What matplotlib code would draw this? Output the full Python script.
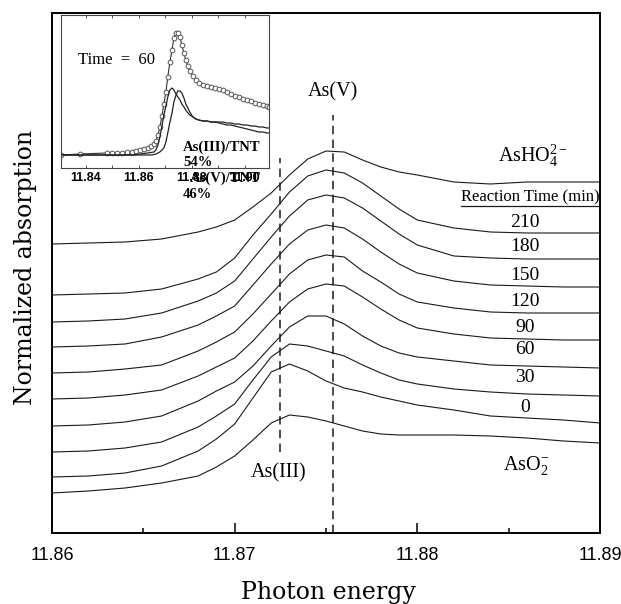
import matplotlib
matplotlib.use('Agg')
import matplotlib.pyplot as plt
from matplotlib.lines import Line2D

plt.rcParams['mathtext.fontset'] = 'custom'
plt.rcParams['mathtext.rm'] = 'Liberation Serif'
plt.rcParams['mathtext.it'] = 'Liberation Serif:italic'
plt.rcParams['mathtext.bf'] = 'Liberation Serif:bold'

# ---------------- main panel data ----------------
energy = [11.860, 11.862, 11.864, 11.866, 11.868, 11.869, 11.870, 11.871, 11.872,
          11.873, 11.874, 11.875, 11.876, 11.877, 11.878, 11.879, 11.880, 11.882,
          11.884, 11.886, 11.888, 11.890]

ashO4_ref = [2.89, 2.90, 2.91, 2.94, 3.01, 3.06, 3.13, 3.26, 3.40, 3.58, 3.74, 3.82,
             3.81, 3.73, 3.66, 3.61, 3.58, 3.51, 3.49, 3.51, 3.51, 3.51]
t210 = [2.38, 2.39, 2.40, 2.44, 2.54, 2.61, 2.75, 2.98, 3.19, 3.41, 3.57, 3.63,
        3.60, 3.50, 3.37, 3.24, 3.13, 3.05, 3.01, 3.00, 3.00, 3.00]
t180 = [2.11, 2.12, 2.14, 2.20, 2.32, 2.40, 2.52, 2.74, 2.96, 3.17, 3.33, 3.38,
        3.35, 3.25, 3.12, 2.99, 2.88, 2.77, 2.75, 2.74, 2.74, 2.74]
t150 = [1.86, 1.87, 1.89, 1.96, 2.08, 2.17, 2.27, 2.48, 2.69, 2.89, 3.03, 3.08,
        3.05, 2.94, 2.81, 2.69, 2.60, 2.52, 2.48, 2.47, 2.46, 2.46]
t120 = [1.60, 1.61, 1.64, 1.68, 1.82, 1.91, 2.01, 2.19, 2.39, 2.59, 2.73, 2.78,
        2.76, 2.62, 2.51, 2.39, 2.31, 2.25, 2.21, 2.20, 2.20, 2.20]
t90 = [1.34, 1.35, 1.38, 1.43, 1.57, 1.66, 1.75, 1.92, 2.12, 2.31, 2.44, 2.49,
       2.47, 2.36, 2.24, 2.13, 2.05, 1.99, 1.95, 1.94, 1.93, 1.93]
t60 = [1.07, 1.08, 1.11, 1.17, 1.32, 1.42, 1.51, 1.67, 1.87, 2.06, 2.17, 2.17,
       2.09, 1.97, 1.87, 1.80, 1.76, 1.72, 1.68, 1.67, 1.66, 1.65]
t30 = [0.81, 0.82, 0.85, 0.91, 1.06, 1.17, 1.29, 1.53, 1.76, 1.89, 1.87, 1.82,
       1.77, 1.68, 1.60, 1.53, 1.49, 1.44, 1.41, 1.39, 1.38, 1.37]
t0 = [0.56, 0.57, 0.60, 0.67, 0.82, 0.94, 1.09, 1.35, 1.61, 1.69, 1.62, 1.52,
      1.45, 1.41, 1.36, 1.32, 1.28, 1.23, 1.17, 1.15, 1.13, 1.10]
aso2_ref = [0.40, 0.42, 0.45, 0.50, 0.57, 0.66, 0.77, 0.93, 1.10, 1.18, 1.16, 1.12,
            1.07, 1.02, 0.99, 0.98, 0.98, 0.98, 0.97, 0.95, 0.92, 0.90]

spectra = [ashO4_ref, t210, t180, t150, t120, t90, t60, t30, t0, aso2_ref]

time_labels = ['210', '180', '150', '120', '90', '60', '30', '0']
time_label_y = [3.11, 2.87, 2.58, 2.31, 2.06, 1.83, 1.55, 1.25]

as3_energy = 11.8725
as5_energy = 11.8754

xticks = [11.86, 11.87, 11.88, 11.89]
xtick_labels = ['11.86', '11.87', '11.88', '11.89']
xminor = [11.865, 11.875, 11.885]

# ---------------- inset data ----------------
inset_energy = [11.8306, 11.8377, 11.8479, 11.8498, 11.8517, 11.8536, 11.8555, 11.8574,
                11.8589, 11.8604, 11.8619, 11.8634, 11.8645, 11.8657, 11.8664, 11.8672,
                11.8679, 11.8687, 11.8694, 11.8702, 11.8709, 11.8717, 11.8725, 11.8732,
                11.8740, 11.8747, 11.8755, 11.8762, 11.8770, 11.8777, 11.8785, 11.8792,
                11.8804, 11.8815, 11.8826, 11.8842, 11.8857, 11.8872, 11.8887, 11.8902,
                11.8917, 11.8932, 11.8947, 11.8962, 11.8977, 11.8993, 11.9008, 11.9023,
                11.9038, 11.9053, 11.9068, 11.9083, 11.9091]
inset_total = [0.00, 0.01, 0.02, 0.02, 0.02, 0.025, 0.03, 0.035, 0.04, 0.05, 0.06, 0.075, 0.09,
               0.11, 0.14, 0.20, 0.28, 0.39, 0.51, 0.63, 0.78, 0.93, 1.05, 1.17, 1.22, 1.22,
               1.18, 1.10, 1.02, 0.95, 0.89, 0.84,
               0.79, 0.75, 0.72,
               0.70, 0.69, 0.68, 0.67, 0.66, 0.65, 0.63, 0.61, 0.59, 0.58, 0.56, 0.55, 0.54,
               0.52, 0.51, 0.50, 0.49, 0.48]
inset_as3 = [0, 0, 0, 0, 0, 0, 0, 0, 0.005, 0.01, 0.015, 0.02, 0.025,
             0.03, 0.05, 0.10, 0.18, 0.29, 0.40, 0.49, 0.58, 0.65, 0.67, 0.65, 0.61, 0.58,
             0.55, 0.51, 0.48, 0.45, 0.42, 0.40,
             0.38, 0.36, 0.35,
             0.34, 0.34, 0.33, 0.33, 0.33, 0.33, 0.32, 0.32, 0.31, 0.31, 0.30, 0.30, 0.29,
             0.29, 0.28, 0.28, 0.27, 0.27]
inset_as5 = [0, 0, 0, 0, 0, 0, 0, 0, 0, 0, 0, 0, 0,
             0.005, 0.01, 0.02, 0.03, 0.05, 0.07, 0.13, 0.22, 0.33, 0.42, 0.53, 0.60, 0.64,
             0.64, 0.62, 0.57, 0.51, 0.47, 0.43,
             0.38, 0.36, 0.35,
             0.34, 0.34, 0.33, 0.33, 0.32, 0.31, 0.30, 0.30, 0.29, 0.28, 0.27, 0.26, 0.25,
             0.24, 0.23, 0.23, 0.22, 0.22]
inset_xticks = [11.84, 11.86, 11.88, 11.90]
inset_xtick_labels = ['11.84', '11.86', '11.88', '11.90']
inset_xminor = [11.85, 11.87, 11.89]

# ---------------- figure ----------------
W, H = 621, 604
fig = plt.figure(figsize=(W / 100, H / 100), dpi=100)
ax = fig.add_axes([52 / W, 1 - 533 / H, 548 / W, 520 / H])

line_col = '#1a1a1a'
for s in spectra:
    ax.plot(energy, s, color=line_col, lw=0.8, solid_joinstyle='round')

ax.plot([as3_energy, as3_energy], [0.81, 3.75], color=line_col, lw=1.1,
        dashes=(5.5, 3.5))
ax.plot([as5_energy, as5_energy], [0.0, 4.18], color=line_col, lw=1.1,
        dashes=(5.5, 3.5))

ax.set_xlim(11.86, 11.89)
ax.set_ylim(0, 5.2)
ax.set_xticks(xticks)
ax.set_xticklabels(xtick_labels, fontfamily='Liberation Sans', fontsize=13)
ax.set_xticks(xminor, minor=True)
ax.set_yticks([])
ax.tick_params(axis='x', which='major', direction='in', length=7.5, width=1.1, pad=10)
ax.tick_params(axis='x', which='minor', direction='in', length=3.8, width=1.1)
for sp in ax.spines.values():
    sp.set_linewidth(1.4)
    sp.set_color('black')

serif = 'Liberation Serif'
ax.text(as5_energy, 4.41, 'As(V)', fontfamily=serif, fontsize=14.5, ha='center', va='center')
ax.text(as3_energy - 0.0001, 0.60, 'As(III)', fontfamily=serif, fontsize=14.5,
        ha='center', va='center')
ax.text(11.8844, 3.71, r'AsHO$_4^{2-}$', fontfamily=serif, fontsize=14.5,
        ha='left', va='baseline')
ax.text(11.8847, 0.63, r'AsO$_2^{-}$', fontfamily=serif, fontsize=14.5,
        ha='left', va='baseline')
rt = ax.text(11.8862, 3.36, 'Reaction Time (min)', fontfamily=serif, fontsize=12,
             ha='center', va='center')
for lab, yy in zip(time_labels, time_label_y):
    ax.text(11.8859, yy, lab, fontfamily=serif, fontsize=14, ha='center', va='center')

fig.text(26 / W, 1 - 267 / H, 'Normalized absorption', fontfamily='DejaVu Serif',
         fontsize=17, rotation=90, ha='center', va='center')
fig.text(328 / W, 1 - 599 / H, 'Photon energy', fontfamily='DejaVu Serif',
         fontsize=17, ha='center', va='baseline')

# ---------------- inset ----------------
ins = fig.add_axes([61 / W, 1 - 168 / H, 208 / W, 153 / H])
ins.plot(inset_energy, inset_total, color='#333333', lw=0.8, marker='o', ms=3.4,
         mfc='white', mec='#555555', mew=0.7)
ins.plot(inset_energy, inset_as3, color='#222222', lw=0.9)
ins.plot(inset_energy, inset_as5, color='#222222', lw=0.9)
ins.set_xlim(11.8306, 11.9091)
ins.set_ylim(-0.13, 1.40)
ins.set_xticks(inset_xticks)
ins.set_xticklabels(inset_xtick_labels, fontfamily='Liberation Sans',
                    fontsize=9, fontweight='bold')
ins.set_xticks(inset_xminor, minor=True)
ins.set_yticks([])
ins.tick_params(axis='x', which='both', direction='in', length=2.5, width=0.6,
                top=True, pad=3, colors='#333333', labelcolor='black')
for sp in ins.spines.values():
    sp.set_linewidth(0.8)
    sp.set_color('#444444')

ins.text(0.082, 0.706, 'Time  =  60', transform=ins.transAxes, fontfamily=serif,
         fontsize=12, ha='left', va='center')
ins.text(0.587, 0.137, 'As(III)/TNT', transform=ins.transAxes, fontfamily=serif,
         fontsize=10.5, fontweight='bold', ha='left', va='center', clip_on=False)
ins.text(0.587, 0.033, '54%', transform=ins.transAxes, fontfamily=serif,
         fontsize=10.5, fontweight='bold', ha='left', va='center', clip_on=False)
ins.text(0.62, -0.065, 'As(V)/TNT', transform=ins.transAxes, fontfamily=serif,
         fontsize=10.5, fontweight='bold', ha='left', va='center', clip_on=False)
ins.text(0.587, -0.176, '46%', transform=ins.transAxes, fontfamily=serif,
         fontsize=10.5, fontweight='bold', ha='left', va='center', clip_on=False)

# underline for "Reaction Time (min)"
fig.canvas.draw()
bb = rt.get_window_extent()
fig.add_artist(Line2D([bb.x0 / W, bb.x1 / W], [(bb.y0 - 1) / H, (bb.y0 - 1) / H],
                      transform=fig.transFigure, color=line_col, lw=0.9))

fig.savefig('out.png', dpi=100)
